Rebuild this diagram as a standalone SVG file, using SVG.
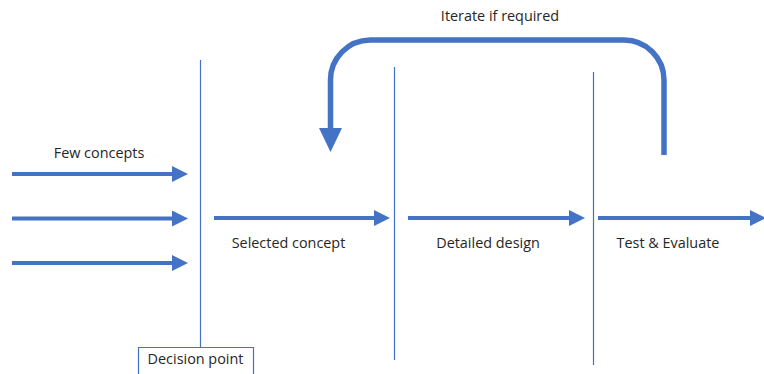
<svg xmlns="http://www.w3.org/2000/svg" width="764" height="374" viewBox="0 0 764 374">
  <defs>
    <marker id="head" markerWidth="4" markerHeight="4" refX="0" refY="2" orient="auto" markerUnits="strokeWidth">
      <path d="M0,0 L4,2 L0,4 Z" fill="#4472C4"/>
    </marker>
    <style>
      .flow { stroke: #4472C4; stroke-width: 4; fill: none; }
      .divider { stroke: #4472C4; stroke-width: 1.2; fill: none; }
      .label { font-family: "Segoe UI", "Open Sans", "Noto Sans", sans-serif; font-size: 14.4px; fill: #262626; }
    </style>
  </defs>
  <rect width="764" height="374" fill="#ffffff"/>

  <!-- stage dividers -->
  <g id="decision-line">
    <line class="divider" x1="200.5" y1="60" x2="200.5" y2="347"/>
  </g>
  <g id="divider-design">
    <line class="divider" x1="394.5" y1="67" x2="394.5" y2="360"/>
  </g>
  <g id="divider-test">
    <line class="divider" x1="593.5" y1="72" x2="593.5" y2="365"/>
  </g>

  <g id="decision-point">
    <path class="divider" d="M138.5,374 V347.5 H253.5 V374"/>
    <text class="label" x="195.5" y="364" text-anchor="middle">Decision point</text>
  </g>

  <g id="few-concepts">
    <text class="label" x="99" y="158" text-anchor="middle">Few concepts</text>
  </g>
  <g id="selected-concept">
    <text class="label" x="288.5" y="248" text-anchor="middle">Selected concept</text>
  </g>
  <g id="detailed-design">
    <text class="label" x="488" y="248" text-anchor="middle">Detailed design</text>
  </g>
  <g id="test-evaluate">
    <text class="label" x="668" y="248" text-anchor="middle">Test &amp; Evaluate</text>
  </g>
  <g id="iterate">
    <text class="label" x="500" y="21" text-anchor="middle">Iterate if required</text>
  </g>

  <!-- connectors -->
  <g id="connectors">
    <line class="flow" x1="12" y1="174" x2="172" y2="174" marker-end="url(#head)"/>
    <line class="flow" x1="12" y1="218.5" x2="172" y2="218.5" marker-end="url(#head)"/>
    <line class="flow" x1="12" y1="263" x2="172" y2="263" marker-end="url(#head)"/>
    <line class="flow" x1="214" y1="218" x2="374" y2="218" marker-end="url(#head)"/>
    <line class="flow" x1="408" y1="218" x2="569" y2="218" marker-end="url(#head)"/>
    <line class="flow" x1="598" y1="218" x2="750" y2="218" marker-end="url(#head)"/>
    <!-- feedback loop -->
    <path d="M664,155 V80 A40,40 0 0 0 624,40 H370 A40,40 0 0 0 330.5,80 V129" stroke="#4472C4" stroke-width="5.5" fill="none"/>
    <path d="M319,128 L342,128 L330.5,152 Z" fill="#4472C4"/>
  </g>
</svg>
